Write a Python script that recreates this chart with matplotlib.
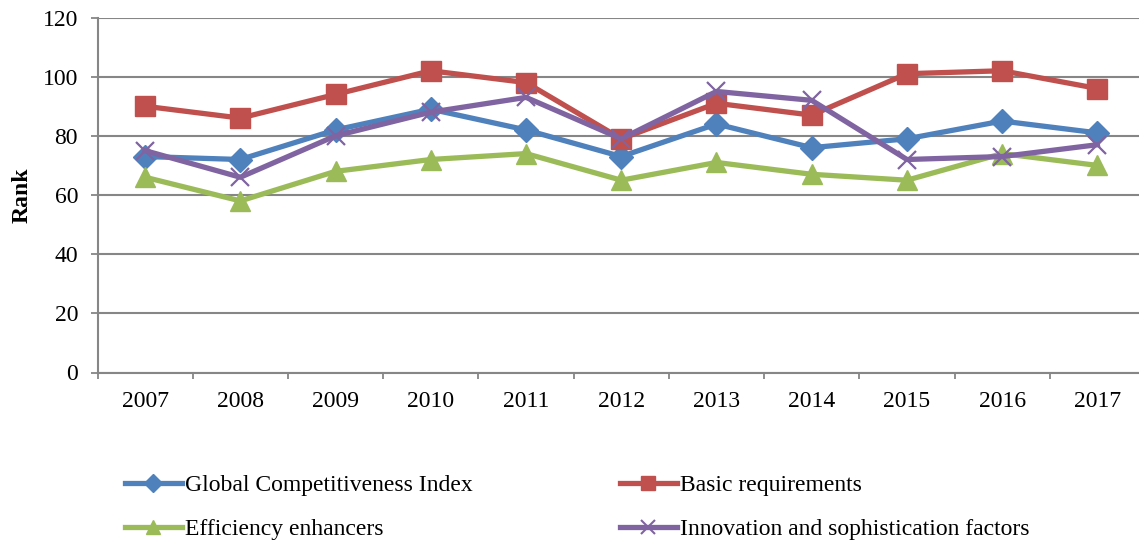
import matplotlib
matplotlib.use("Agg")
import matplotlib.pyplot as plt
from matplotlib.lines import Line2D

years = ["2007", "2008", "2009", "2010", "2011", "2012", "2013", "2014", "2015", "2016", "2017"]
gci = [73, 72, 82, 89, 82, 73, 84, 76, 79, 85, 81]
basic = [90, 86, 94, 102, 98, 79, 91, 87, 101, 102, 96]
efficiency = [66, 58, 68, 72, 74, 65, 71, 67, 65, 74, 70]
innovation = [75, 66, 80, 88, 93, 79, 95, 92, 72, 73, 77]

series_names = ["Global Competitiveness Index", "Basic requirements",
                "Efficiency enhancers", "Innovation and sophistication factors"]

plt.rcParams['font.family'] = ['Liberation Serif', 'DejaVu Serif']

W, H = 1139, 545
fig = plt.figure(figsize=(W / 100, H / 100), dpi=100)
left, right, top, bottom = 97.5, 1145, 17.5, 372.5
ax = fig.add_axes([left / W, 1 - bottom / H, (right - left) / W, (bottom - top) / H])

blue, red, green, purple = "#4F81BD", "#C0504D", "#9BBB59", "#8064A2"
x = list(range(len(years)))
lw = 3.8
ax.plot(x, gci, color=blue, lw=lw, marker="D", ms=12, zorder=3)
ax.plot(x, basic, color=red, lw=lw, marker="s", ms=14, zorder=3)
ax.plot(x, efficiency, color=green, lw=lw, marker="^", ms=15, zorder=3)
ax.plot(x, innovation, color=purple, lw=lw, marker="x", ms=13, mew=1.6, zorder=4)

ax.set_xlim(-0.5, len(years) - 0.5)
ax.set_ylim(0, 120)
ax.set_yticks(range(0, 121, 20))
ax.set_xticks(x)
ax.set_xticklabels(years)
ax.set_xticks([i + 0.5 for i in range(-1, len(years))], minor=True)
ax.tick_params(axis="x", which="major", length=0, labelsize=17, pad=13)
ax.tick_params(axis="x", which="minor", length=4, color="#868686", width=1.3)
ax.tick_params(axis="y", length=5, color="#868686", width=1.3, labelsize=17, pad=9)
ax.grid(axis="y", color="#868686", lw=1.5)
ax.set_axisbelow(True)
for s in ["top", "right"]:
    ax.spines[s].set_visible(False)
for s in ["left", "bottom"]:
    ax.spines[s].set_color("#868686")
    ax.spines[s].set_linewidth(1.5)
ax.set_ylabel("Rank", fontsize=17, fontweight="bold", labelpad=7)

handles = [
    Line2D([], [], color=blue, lw=lw, marker="D", ms=9),
    Line2D([], [], color=red, lw=lw, marker="s", ms=10),
    Line2D([], [], color=green, lw=lw, marker="^", ms=10),
    Line2D([], [], color=purple, lw=lw, marker="x", ms=10, mew=1.5),
]
leg_kw = dict(loc="center left", frameon=False, fontsize=17, handlelength=2.4,
              handletextpad=0.15, labelspacing=0.95, borderpad=0, borderaxespad=0)
leg1 = fig.legend([handles[0], handles[2]], [series_names[0], series_names[2]],
                  bbox_to_anchor=(125 / W, 1 - 507.5 / H), **leg_kw)
leg2 = fig.legend([handles[1], handles[3]], [series_names[1], series_names[3]],
                  bbox_to_anchor=(620 / W, 1 - 507.5 / H), **leg_kw)

fig.savefig("out.png", dpi=100)
